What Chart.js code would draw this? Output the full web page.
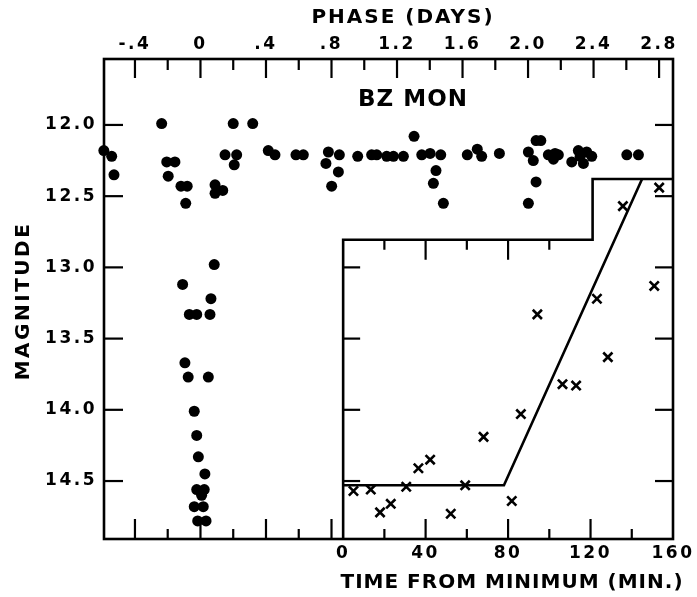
<!DOCTYPE html>
<html>
<head>
<meta charset="utf-8">
<script src="https://cdn.jsdelivr.net/npm/chart.js@4.4.0/dist/chart.umd.min.js"></script>
<style>
  body { margin: 0; background: #fff; }
  #wrap { width: 697px; height: 597px; }
</style>
</head>
<body>
<div id="wrap"><canvas id="chartBz"></canvas></div>
<script>
// BZ Mon light curve: phase (days) vs magnitude
const fase = [
  -0.59, -0.542, -0.528, -0.237, -0.206, -0.156, -0.197, -0.119, -0.081, -0.090,
  0.089, 0.089, 0.136, 0.150, 0.221, 0.206, 0.200, 0.319, 0.414, 0.455,
  0.583, 0.628, 0.781, 0.848, 0.766, 0.842, 0.801, 0.960, 1.045, 1.076,
  1.137, 1.178, 1.239, 1.304, 1.351, 1.402, 1.467, 1.438, 1.422, 1.483,
  1.629, 1.690, 1.717, 1.825, 2.002, 2.032, 2.049, 2.078, 2.049, 2.002,
  2.124, 2.165, 2.155, 2.185, 2.267, 2.307, 2.318, 2.338, 2.358, 2.389,
  2.603, 2.674,
  0.084, -0.109, 0.064, -0.068, -0.023, 0.058, -0.095, -0.075, 0.048,
  -0.038, -0.023, -0.013, 0.027, -0.023, 0.023, 0.007, -0.038, 0.017, -0.017, 0.034
];
const magnitud = [
  12.18, 12.22, 12.35, 11.99, 12.26, 12.26, 12.36, 12.43, 12.43, 12.55,
  12.42, 12.48, 12.46, 12.21, 12.21, 12.28, 11.99, 11.99, 12.18, 12.21,
  12.21, 12.21, 12.19, 12.21, 12.27, 12.33, 12.43, 12.22, 12.21, 12.21,
  12.22, 12.22, 12.22, 12.08, 12.21, 12.20, 12.21, 12.32, 12.41, 12.55,
  12.21, 12.17, 12.22, 12.20, 12.19, 12.25, 12.11, 12.11, 12.40, 12.55,
  12.21, 12.20, 12.24, 12.21, 12.26, 12.18, 12.22, 12.27, 12.19, 12.22,
  12.21, 12.21,
  12.98, 13.12, 13.22, 13.33, 13.33, 13.33, 13.67, 13.77, 13.77,
  14.01, 14.18, 14.33, 14.45, 14.56, 14.56, 14.60, 14.68, 14.68, 14.78, 14.78
];

// inset: time from minimum (min) vs magnitude
const minutos = [5.0, 13.4, 17.9, 23.1, 30.6, 36.5, 42.2, 52.2, 59.2, 68.1,
  81.8, 86.2, 94.2, 106.4, 113.0, 123.1, 128.4, 135.7, 150.9, 153.3];
const magMin = [14.57, 14.56, 14.72, 14.66, 14.54, 14.41, 14.35, 14.73, 14.53, 14.19,
  14.64, 14.03, 13.33, 13.82, 13.83, 13.22, 13.63, 12.57, 13.13, 12.44];
const ajusteMin = [0, 78, 145];
const ajusteMag = [14.53, 14.53, 12.38];

const ticksFase = [-0.4, 0, 0.4, 0.8, 1.2, 1.6, 2.0, 2.4, 2.8];
const ticksMag = [12.0, 12.5, 13.0, 13.5, 14.0, 14.5];
const ticksMin = [0, 40, 80, 120, 160];

const FUENTE = '"DejaVu Sans", sans-serif';

function etiquetaFase(v) {
  if (v === 0) return '0';
  let s = Math.abs(v).toFixed(1);
  if (s.startsWith('0')) s = s.slice(1);
  return (v < 0 ? '-' : '') + s;
}

const marco = {
  id: 'marco',
  beforeDraw(chart) {
    chart.ctx.letterSpacing = '2.5px';
  },
  afterDraw(chart) {
    const { ctx, chartArea: a, scales } = chart;
    const sx = scales.x, st = scales.x2, sy = scales.y;
    ctx.save();
    ctx.strokeStyle = '#000';
    ctx.lineWidth = 2.6;
    ctx.strokeRect(a.left, a.top, a.right - a.left, a.bottom - a.top);

    // inset box
    const ix0 = st.getPixelForValue(0), ix1 = st.getPixelForValue(121);
    const iy0 = sy.getPixelForValue(12.806), iy1 = sy.getPixelForValue(12.38);
    ctx.beginPath();
    ctx.moveTo(ix0, a.bottom);
    ctx.lineTo(ix0, iy0);
    ctx.lineTo(ix1, iy0);
    ctx.lineTo(ix1, iy1);
    ctx.lineTo(a.right, iy1);
    ctx.stroke();

    ctx.lineWidth = 2.2;
    const tick = (x1, y1, x2, y2) => {
      ctx.beginPath(); ctx.moveTo(x1, y1); ctx.lineTo(x2, y2); ctx.stroke();
    };
    for (let i = -2; i <= 14; i++) {
      const x = sx.getPixelForValue(i * 0.2);
      const mayor = i % 2 === 0;
      tick(x, a.top, x, a.top + (mayor ? 19 : 11));
      if (i <= 4) tick(x, a.bottom, x, a.bottom - (mayor ? 20 : 10));
    }
    ticksMag.forEach(m => {
      const y = sy.getPixelForValue(m);
      tick(a.left, y, a.left + 19, y);
      tick(a.right, y, a.right - 18, y);
      if (m >= 13) tick(ix0, y, ix0 + 17, y);
    });
    for (let t = 20; t <= 140; t += 20) {
      const x = st.getPixelForValue(t);
      const largo = t % 40 === 0 ? 20 : 10;
      tick(x, a.bottom, x, a.bottom - largo);
      if (t <= 100) tick(x, iy0, x, iy0 + largo);
    }

    // titles
    ctx.fillStyle = '#000';
    ctx.textAlign = 'center';
    ctx.textBaseline = 'middle';
    ctx.font = 'bold 20px ' + FUENTE;
    ctx.letterSpacing = '2px';
    ctx.fillText('PHASE (DAYS)', 403, 18);
    ctx.letterSpacing = '1px';
    ctx.fillText('TIME FROM MINIMUM (MIN.)', 512, 583);
    ctx.letterSpacing = '2.5px';
    ctx.save();
    ctx.translate(24, 301);
    ctx.rotate(-Math.PI / 2);
    ctx.fillText('MAGNITUDE', 0, 0);
    ctx.restore();
    ctx.letterSpacing = '1px';
    ctx.font = 'bold 23px ' + FUENTE;
    ctx.fillText('BZ MON', 413, 100);
    ctx.restore();
  }
};

const ejeComun = {
  type: 'linear',
  grid: { display: false, drawTicks: false },
  border: { display: false },
};
const fuenteTicks = { family: FUENTE, size: 17, weight: 'bold' };

const ctx = document.getElementById('chartBz').getContext('2d');

const chartBz = new Chart(ctx, {
  data: {
    datasets: [
      {
        type: 'scatter',
        data: fase.map((f, i) => ({ x: f, y: magnitud[i] })),
        xAxisID: 'x',
        yAxisID: 'y',
        pointRadius: 5.5,
        pointBackgroundColor: '#000',
        pointBorderWidth: 0,
        clip: false
      },
      {
        type: 'scatter',
        data: minutos.map((t, i) => ({ x: t, y: magMin[i] })),
        xAxisID: 'x2',
        yAxisID: 'y',
        pointStyle: 'crossRot',
        pointRadius: 6.5,
        pointBorderColor: '#000',
        pointBorderWidth: 2.6
      },
      {
        type: 'line',
        data: ajusteMin.map((t, i) => ({ x: t, y: ajusteMag[i] })),
        xAxisID: 'x2',
        yAxisID: 'y',
        borderColor: '#000',
        borderWidth: 2.6,
        pointRadius: 0,
        fill: false
      }
    ]
  },
  options: {
    responsive: true,
    maintainAspectRatio: false,
    animation: false,
    layout: { padding: { left: 0, top: 0, right: 24, bottom: 0 } },
    plugins: {
      legend: { display: false },
      tooltip: { enabled: false }
    },
    scales: {
      x: {
        ...ejeComun,
        position: 'top',
        min: -0.589,
        max: 2.885,
        afterBuildTicks: s => { s.ticks = ticksFase.map(v => ({ value: v })); },
        afterFit: s => { s.height = 59; },
        ticks: {
          color: '#000', padding: 4, maxRotation: 0, autoSkip: false,
          font: fuenteTicks,
          callback: v => etiquetaFase(v)
        }
      },
      x2: {
        ...ejeComun,
        position: 'bottom',
        min: -116,
        max: 160,
        afterBuildTicks: s => { s.ticks = ticksMin.map(v => ({ value: v })); },
        afterFit: s => { s.height = 58; },
        ticks: {
          color: '#000', padding: 4, maxRotation: 0, autoSkip: false,
          font: fuenteTicks
        }
      },
      y: {
        ...ejeComun,
        position: 'left',
        reverse: true,
        min: 11.537,
        max: 14.907,
        afterBuildTicks: s => { s.ticks = ticksMag.map(v => ({ value: v })); },
        afterFit: s => { s.width = 104; },
        ticks: {
          color: '#000', padding: 7, autoSkip: false,
          font: fuenteTicks,
          callback: v => v.toFixed(1)
        }
      }
    }
  },
  plugins: [marco]
});
</script>
</body>
</html>
